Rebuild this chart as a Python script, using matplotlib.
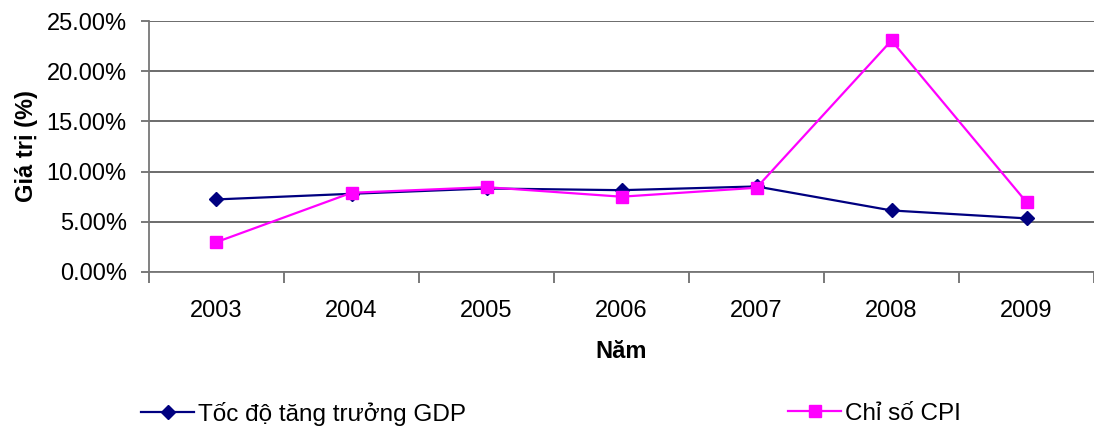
import matplotlib
matplotlib.use('Agg')
import matplotlib.pyplot as plt
from matplotlib.ticker import FuncFormatter

plt.rcParams['font.family'] = ['Liberation Sans', 'DejaVu Sans']

years = ['2003', '2004', '2005', '2006', '2007', '2008', '2009']
gdp = [7.23, 7.79, 8.32, 8.15, 8.52, 6.13, 5.34]
cpi = [2.98, 7.89, 8.45, 7.50, 8.39, 23.06, 6.96]

fig = plt.figure(figsize=(10.94, 4.33), dpi=100)
ax = fig.add_axes([149 / 1094, 161 / 433, 945 / 1094, 251 / 433])

x = range(len(years))
l1, = ax.plot(x, gdp, color='#000080', lw=1.6, marker='D', ms=7,
              label='Tốc độ tăng trưởng GDP', zorder=3)
l2, = ax.plot(x, cpi, color='#ff00ff', lw=1.6, marker='s', ms=8.5,
              label='Chỉ số CPI', zorder=4)

ax.set_ylim(0, 25)
ax.set_xlim(-0.5, 6.38)
ax.set_yticks([0, 5, 10, 15, 20, 25])
ax.yaxis.set_major_formatter(FuncFormatter(lambda v, p: '%.2f%%' % v))
ax.yaxis.grid(True, color='#444444', lw=1.1)
ax.set_axisbelow(True)

# category boundaries get the tick marks, labels sit between them
ax.set_xticks([i + 0.5 for i in range(-1, 7)])
ax.set_xticklabels([])
ax.set_xticks(list(x), minor=True)
ax.set_xticklabels(years, minor=True)
ax.tick_params(axis='x', which='major', length=8, width=1.1, color='#555555', direction='out')
ax.tick_params(axis='x', which='minor', length=0, labelsize=17, pad=20)
ax.tick_params(axis='y', length=6, width=1.1, color='#555555', labelsize=17, pad=10)

for s in ['top', 'right']:
    ax.spines[s].set_visible(False)
for s in ['left', 'bottom']:
    ax.spines[s].set_color('#777777')
    ax.spines[s].set_linewidth(1.3)

ax.set_ylabel('Giá trị (%)', fontsize=17, fontweight='bold', labelpad=6)
ax.set_xlabel('Năm', fontsize=17, fontweight='bold', labelpad=13)

for line, xpos in [(l1, 141), (l2, 788)]:
    fig.legend(handles=[line], loc='center left', bbox_to_anchor=(xpos / 1094, 1 - 414 / 433),
               frameon=False, fontsize=17.5, handlelength=2.2, handletextpad=0.15,
               borderpad=0, borderaxespad=0)

fig.savefig('out.png', dpi=100)
